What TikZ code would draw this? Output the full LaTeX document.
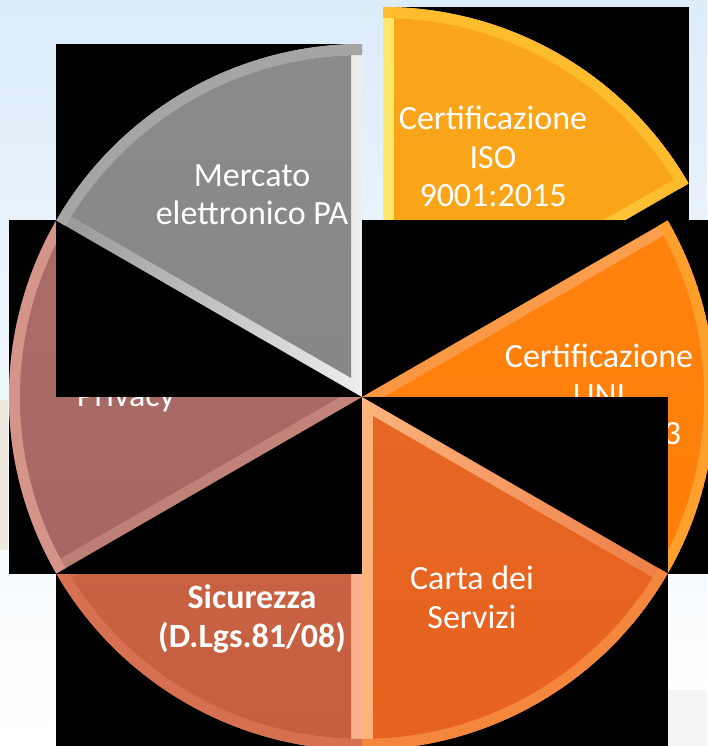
\documentclass[tikz,border=0pt]{standalone}
\usepackage{fontspec}
\setmainfont{Carlito}

\definecolor{cielo}{RGB}{220,236,249}
\definecolor{sabbia}{RGB}{238,233,222}
\definecolor{isoface}{RGB}{250,163,20}
\definecolor{isolo}{RGB}{255,185,40}
\definecolor{isohi}{RGB}{255,232,110}
\definecolor{isoarc}{RGB}{255,188,45}
\definecolor{uniface}{RGB}{255,125,5}
\definecolor{unilo}{RGB}{250,140,50}
\definecolor{unihi}{RGB}{250,160,80}
\definecolor{uniarc}{RGB}{255,160,45}
\definecolor{cartaface}{RGB}{230,95,25}
\definecolor{cartalo}{RGB}{238,125,70}
\definecolor{cartahi}{RGB}{252,180,125}
\definecolor{cartaarc}{RGB}{245,135,60}
\definecolor{sicface}{RGB}{197,92,60}
\definecolor{siclo}{RGB}{210,110,80}
\definecolor{sichi}{RGB}{250,178,145}
\definecolor{sicarc}{RGB}{215,112,80}
\definecolor{privface}{RGB}{165,102,96}
\definecolor{privlo}{RGB}{188,126,118}
\definecolor{privhi}{RGB}{200,138,128}
\definecolor{privarc}{RGB}{212,148,138}
\definecolor{mepaface}{RGB}{135,135,135}
\definecolor{mepalo}{RGB}{150,150,150}
\definecolor{mepahi}{RGB}{238,238,238}
\definecolor{mepaarc}{RGB}{165,165,165}

% #1 apex, #2-#3 angles, #4 face, #5-#6 straight bevel (dark to light),
% #7 round bevel, #8 direction of the light, #9 black box
\newcommand{\fetta}[9]{%
  \pgfmathsetmacro{\fmid}{(#2+#3)/2}%
  \fill[black] #9;
  \begin{scope}[shift={#1}]
    \shade[bottom color=#5, top color=#6, shading angle=#8-90]
      (0,0) -- (#2:353) arc[start angle=#2, end angle=#3, radius=353] -- cycle;
    \begin{scope}
      \clip (0,0) -- (#2:353) arc[start angle=#2, end angle=#3, radius=353] -- cycle;
      \draw[#7, line width=11] (0,0) circle[radius=347.5];
    \end{scope}
    \begin{scope}
      \clip (0,0) circle[radius=342];
      \shade[top color=#4!95!white, bottom color=#4]
        (\fmid:22) -- +(#2:500) -- +(\fmid:600) -- +(#3:500) -- cycle;
    \end{scope}
  \end{scope}
}

\begin{document}
\begin{tikzpicture}
      [%%%%%%%%%%%%%%%%%%%%%%%%%%%%%%
      x=1pt, y=1pt,
      testo/.style={text=white, font=\fontsize{34}{38.5}\selectfont, align=center, anchor=base},
      ]%%%%%%%%%%%%%%%%%%%%%%%%%%%%%%

      \useasboundingbox (-362,-349) rectangle (345,397);
      \shade[top color=cielo, bottom color=white, middle color=cielo!45] (-362,-349) rectangle (345,397);
      \fill[sabbia] (-362,-3) rectangle (-354,-153);
      \fill[gray!8] (305,-293) rectangle (345,-349);

      % slices, clockwise from the exploded one (base = last line)
      \fetta{(21,37)}{30}{90}{isoface}{isolo}{isohi}{isoarc}{180}{(21,37) rectangle (327,390)}
      \node[testo] (iso) at (131,190) {Certificazione\\ISO\\9001:2015};

      \fetta{(0,0)}{-30}{30}{uniface}{unilo}{unihi}{uniarc}{90}{(0,-176.5) rectangle (353,176.5)}
      \node[testo] (uni) at (237,-48) {Certificazione\\UNI\\10881:2013};

      \fetta{(0,0)}{270}{330}{cartaface}{cartalo}{cartahi}{cartaarc}{180}{(0,-353) rectangle (305.7,0)}
      \node[testo] (carta) at (110,-231) {Carta dei\\Servizi};

      \fetta{(0,0)}{210}{270}{sicface}{siclo}{sichi}{sicarc}{0}{(-305.7,-353) rectangle (0,0)}
      \node[testo, font=\fontsize{34}{38.5}\selectfont\bfseries] (sic) at (-110,-250) {Sicurezza\\(D.Lgs.81/08)};

      \fetta{(0,0)}{150}{210}{privface}{privlo}{privhi}{privarc}{90}{(-353,-176.5) rectangle (0,176.5)}
      \node[testo] (priv) at (-236,-10) {Privacy};

      \fetta{(0,0)}{90}{150}{mepaface}{mepalo}{mepahi}{mepaarc}{0}{(-305.7,0) rectangle (0,353)}
      \node[testo] (mepa) at (-110,172) {Mercato\\elettronico PA};
    \end{tikzpicture}
\end{document}
